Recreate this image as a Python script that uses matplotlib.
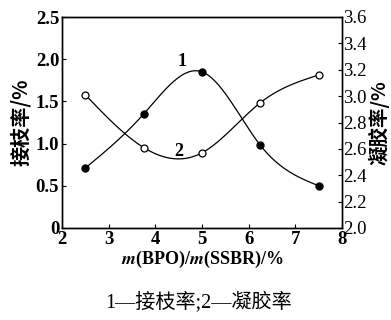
import numpy as np
import matplotlib
matplotlib.use("Agg")
import matplotlib.pyplot as plt

# Data
x_vals = [2.5, 3.75, 5.0, 6.25, 7.5]
graft_rate = [0.71, 1.35, 1.85, 0.98, 0.50]      # curve 1, left axis
gel_rate = [3.01, 2.61, 2.57, 2.95, 3.16]        # curve 2, right axis
x_ticks = [2, 3, 4, 5, 6, 7, 8]
left_ticks = [0, 0.5, 1.0, 1.5, 2.0, 2.5]
left_tick_labels = ["0", "0.5", "1.0", "1.5", "2.0", "2.5"]
right_ticks = [2.0, 2.2, 2.4, 2.6, 2.8, 3.0, 3.2, 3.4, 3.6]
left_label = "接枝率/%"
right_label = "凝胶率/%"
caption = "1—接枝率;2—凝胶率"


def natural_spline(x, y, n=200):
    x = np.asarray(x, float)
    y = np.asarray(y, float)
    k = len(x)
    h = np.diff(x)
    A = np.zeros((k, k))
    b = np.zeros(k)
    A[0, 0] = 1
    A[-1, -1] = 1
    for i in range(1, k - 1):
        A[i, i - 1] = h[i - 1]
        A[i, i] = 2 * (h[i - 1] + h[i])
        A[i, i + 1] = h[i]
        b[i] = 3 * ((y[i + 1] - y[i]) / h[i] - (y[i] - y[i - 1]) / h[i - 1])
    c = np.linalg.solve(A, b)
    xs = np.linspace(x[0], x[-1], n)
    ys = np.empty_like(xs)
    for j, xv in enumerate(xs):
        i = min(np.searchsorted(x, xv, side="right") - 1, k - 2)
        dx = xv - x[i]
        bi = (y[i + 1] - y[i]) / h[i] - h[i] * (2 * c[i] + c[i + 1]) / 3
        di = (c[i + 1] - c[i]) / (3 * h[i])
        ys[j] = y[i] + bi * dx + c[i] * dx ** 2 + di * dx ** 3
    return xs, ys


plt.rcParams["mathtext.fontset"] = "stix"
serif = ["Liberation Serif", "DejaVu Serif"]
cjk = ["Noto Sans CJK SC", "DejaVu Sans"]
cap_fam = ["Liberation Serif", "Noto Sans CJK SC"]

fig = plt.figure(figsize=(3.91, 3.20), dpi=100)
ax = fig.add_axes([62 / 391, 1 - 228 / 320, 280 / 391, 211 / 320])
ax2 = ax.twinx()

xs, ys = natural_spline(x_vals, graft_rate)
ax.plot(xs, ys, color="black", lw=0.9)
ax.plot(x_vals, graft_rate, "o", color="black", ms=5, mfc="black")

xs2, ys2 = natural_spline(x_vals, gel_rate)
ax2.plot(xs2, ys2, color="black", lw=0.9)
ax2.plot(x_vals, gel_rate, "o", color="black", ms=5, mfc="white", mew=0.9)

ax.set_xlim(2, 8)
ax.set_ylim(0, 2.5)
ax2.set_ylim(2.0, 3.6)

ax.set_xticks(x_ticks)
ax.set_xticklabels([str(t) for t in x_ticks], fontfamily=serif, fontweight="bold", fontsize=13.5)
ax.set_yticks(left_ticks)
ax.set_yticklabels(left_tick_labels, fontfamily=serif, fontweight="bold", fontsize=13.5)
ax2.set_yticks(right_ticks)
ax2.set_yticklabels([f"{t:.1f}" for t in right_ticks], fontfamily=serif, fontsize=13.5)

ax.tick_params(axis="both", direction="in", length=3, width=0.8, pad=2)
ax2.tick_params(axis="y", direction="in", length=3, width=0.8, pad=1)
for a in (ax, ax2):
    for s in a.spines.values():
        s.set_linewidth(1.0)

ax.set_xlabel(r"$\mathbfit{m}$(BPO)/$\mathbfit{m}$(SSBR)/%", fontfamily=serif,
              fontweight="bold", fontsize=13, labelpad=1)
ax.set_ylabel(left_label, fontfamily=cjk, fontweight="bold", fontsize=14.5, labelpad=3)
ax2.set_ylabel(right_label, fontfamily=cjk, fontweight="bold", fontsize=14, labelpad=1)

ax.text(4.57, 1.87, "1", fontfamily=serif, fontweight="bold", fontsize=13, ha="center", va="bottom")
ax.text(4.51, 0.80, "2", fontfamily=serif, fontweight="bold", fontsize=13, ha="center", va="bottom")

fig.text(199 / 391, 1 - 302 / 320, caption, fontfamily=cap_fam, fontsize=14.5,
         ha="center", va="center", fontweight="light")

fig.savefig("out.png", dpi=100)
